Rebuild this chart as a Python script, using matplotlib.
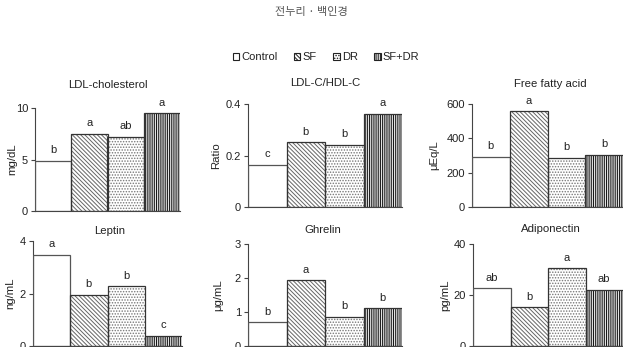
import matplotlib
matplotlib.use("Agg")
import matplotlib.pyplot as plt
from matplotlib.patches import Patch

plt.rcParams['font.family'] = ['Liberation Sans', 'DejaVu Sans']
plt.rcParams['hatch.linewidth'] = 0.7

groups = ["Control", "SF", "DR", "SF+DR"]
titles = ["LDL-cholesterol", "LDL-C/HDL-C", "Free fatty acid", "Leptin", "Ghrelin", "Adiponectin"]
ylabels = ["mg/dL", "Ratio", "μEq/L", "ng/mL", "μg/mL", "pg/mL"]
ldl = [4.85, 7.5, 7.2, 9.5]
ratio = [0.163, 0.252, 0.242, 0.362]
ffa = [292, 557, 287, 305]
leptin = [3.47, 1.96, 2.27, 0.39]
ghrelin = [0.70, 1.93, 0.86, 1.11]
adipo = [22.7, 15.2, 30.4, 22.0]
letters_ldl = ["b", "a", "ab", "a"]
letters_ratio = ["c", "b", "b", "a"]
letters_ffa = ["b", "a", "b", "b"]
letters_leptin = ["a", "b", "b", "c"]
letters_ghrelin = ["b", "a", "b", "b"]
letters_adipo = ["ab", "b", "a", "ab"]
yticks = [[0, 5, 10], [0, 0.2, 0.4], [0, 200, 400, 600], [0, 2, 4], [0, 1, 2, 3], [0, 20, 40]]
yticklabels = [["0", "5", "10"], ["0", "0.2", "0.4"], ["0", "200", "400", "600"],
               ["0", "2", "4"], ["0", "1", "2", "3"], ["0", "20", "40"]]

values = [ldl, ratio, ffa, leptin, ghrelin, adipo]
letters = [letters_ldl, letters_ratio, letters_ffa, letters_leptin, letters_ghrelin, letters_adipo]

W, H = 623, 347
fig = plt.figure(figsize=(W / 100, H / 100), dpi=100)

# axes boxes in pixel coords: (left, right, top, bottom)
boxes = [(35, 180, 108, 211), (248, 402, 104, 207), (472, 623, 104, 207),
         (33, 182, 241, 346), (248, 402, 244, 346), (473, 623, 244, 346)]
title_pos = [(108, 85), (325, 83), (550, 84), (110, 231), (323, 230), (551, 229)]
ylabel_x = [12, 216, 434, 10, 218, 445]

hatches = [None, "\\\\\\\\\\\\\\\\", "......", "|||||||||"]
hatch_cols = [None, "#666666", "#777777", "#111111"]
face = "white"
txtc = "#222222"

for i in range(6):
    l, r, t, b = boxes[i]
    ax = fig.add_axes([l / W, 1 - b / H, (r - l) / W, (b - t) / H])
    x = list(range(4))
    for j in range(4):
        if hatches[j]:
            ax.bar(x[j], values[i][j], width=1.0, color=face, edgecolor=hatch_cols[j],
                   hatch=hatches[j], linewidth=0, zorder=2)
        ax.bar(x[j], values[i][j], width=1.0, color="none",
               edgecolor="#555555" if j == 0 else "#333333",
               linewidth=0.9, zorder=3)
        ax.annotate(letters[i][j], (x[j], values[i][j]), xytext=(0, 4),
                    textcoords="offset points", ha="center", va="bottom",
                    fontsize=8, color=txtc)
    ax.set_xlim(-0.5, 3.5)
    ax.set_ylim(yticks[i][0], yticks[i][-1])
    ax.set_yticks(yticks[i])
    ax.set_yticklabels(yticklabels[i], fontsize=8, color=txtc)
    ax.set_xticks([])
    for s in ["top", "right"]:
        ax.spines[s].set_visible(False)
    ax.spines["left"].set_color("#444444")
    ax.spines["bottom"].set_color("#444444")
    ax.tick_params(axis="y", direction="out", length=3, width=0.8, color="#444444", pad=2)
    ax.patch.set_alpha(0)
    fig.text(title_pos[i][0] / W, 1 - title_pos[i][1] / H, titles[i], ha="center",
             va="center", fontsize=8.2, color=txtc)
    fig.text(ylabel_x[i] / W, 1 - (t + b) / 2 / H, ylabels[i], ha="center", va="center",
             rotation=90, fontsize=8.2, color=txtc)

fig.text(311 / W, 1 - 12 / H, "전누리 · 백인경", ha="center", va="center", fontsize=8,
         color="#555555", family=["Noto Sans CJK KR", "DejaVu Sans"])

handles = []
for j in range(4):
    handles.append(Patch(facecolor="white", edgecolor="#222222", hatch=hatches[j], linewidth=0.8))
fig.legend(handles, groups, loc="center", bbox_to_anchor=(326 / W, 1 - 57 / H), ncol=4,
           frameon=False, fontsize=8, handlelength=0.6, handleheight=0.6, handletextpad=0.2,
           columnspacing=1.45, labelcolor=txtc)

fig.savefig("out.png", dpi=100)
